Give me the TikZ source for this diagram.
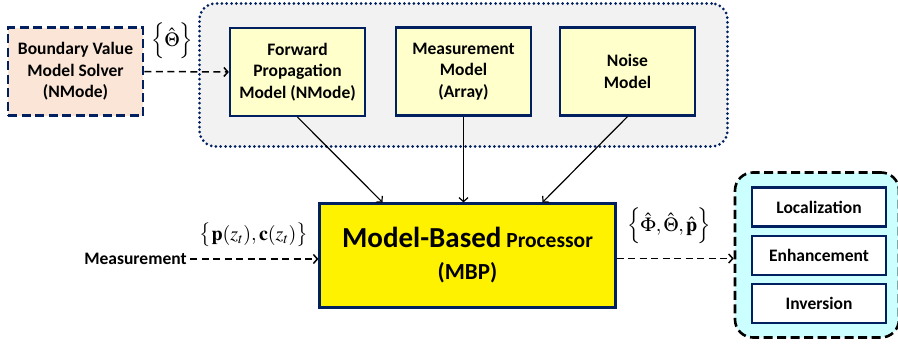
\documentclass[tikz,border=0pt]{standalone}
\usepackage{mathptmx}
\usepackage[no-math]{fontspec}
\setmainfont{Carlito}
\usepackage{amsmath}
\usetikzlibrary{positioning,arrows.meta}

\definecolor{navy}{RGB}{0,32,96}
\definecolor{peach}{RGB}{251,229,214}
\definecolor{paleyellow}{RGB}{255,255,204}
\definecolor{panelgray}{RGB}{242,242,242}
\definecolor{paleblue}{RGB}{204,255,255}

\begin{document}
\begin{tikzpicture}[x=1pt,y=-1pt,
  model/.style={draw=navy,line width=2.2pt,fill=paleyellow,minimum width=135pt,minimum height=88pt,align=center,inner sep=2pt,font=\bfseries\fontsize{17.5}{21.5}\selectfont},
  task/.style={draw=navy,line width=2.2pt,fill=white,minimum width=134pt,minimum height=39pt,font=\bfseries\fontsize{17.5}{20}\selectfont},
  longdash/.style={dash pattern=on 9pt off 4.5pt},
  flow/.style={line width=1.5pt,dash pattern=on 7pt off 4.5pt,-{Straight Barb[length=4pt,width=9pt]}},
  feed/.style={line width=1.2pt,-{Straight Barb[length=4pt,width=9pt]}},
  setlabel/.style={font=\fontsize{20}{24}\selectfont}]

\useasboundingbox (0,0) rectangle (898,348);

% model blocks feeding the processor
\node[draw=navy,line width=3pt,dash pattern=on 0pt off 4.8pt,line cap=round,fill=panelgray,rounded corners=16pt,minimum width=528pt,minimum height=143pt] (models) at (463.5,75) {};
\node[model] (fwd) at (297.5,72) {Forward\\Propagation\\Model (NMode)};
\node[model] (meas) at (463.5,71.5) {Measurement\\Model\\(Array)};
\node[model] (noise) at (627.5,71.5) {Noise\\Model};

\node[model,fill=peach,longdash,line width=2.6pt] (bvms) at (75.5,71.5) {Boundary Value\\Model Solver\\(NMode)};

% processor
\node[draw=navy,line width=2.2pt,fill=yellow,minimum width=296pt,minimum height=104pt,align=center,
      font=\bfseries\fontsize{21.5}{32}\selectfont] (mbp) at (467.5,255.5)
  {{\fontsize{29}{32}\selectfont Model-Based} Processor\\{\fontsize{23}{32}\selectfont (MBP)}};

% outputs
\node[draw=black,longdash,line width=2.6pt,fill=paleblue,rounded corners=18pt,minimum width=164pt,minimum height=165pt] (out) at (817,255) {};
\node[task] (loc) at (819,207) {Localization};
\node[task] (enh) at (819,255.5) {Enhancement};
\node[task] (inv) at (819,303.5) {Inversion};

\node[font=\bfseries\fontsize{17.5}{20}\selectfont] (data) at (135.5,259) {Measurement};

\node[setlabel] (theta) at (172,41) {$\Bigl\{\hat{\Theta}\Bigr\}$};
\node[setlabel] (obs) at (254,235) {$\bigl\{\mathbf{p}(z_t),\mathbf{c}(z_t)\bigr\}$};
\node[setlabel] (est) at (669,226) {$\Bigl\{\hat{\Phi},\hat{\Theta},\hat{\mathbf{p}}\Bigr\}$};

\draw[flow] (bvms.east) -- (fwd.west);
\draw[flow] (data.east) -- (data.east -| mbp.west);
\draw[flow] ([yshift=-3pt]mbp.east) -- ([yshift=-3pt]mbp.east -| out.west);

\draw[feed] (fwd.south) -- ([xshift=-85pt]mbp.north);
\draw[feed] (meas.south) -- (meas.south |- mbp.north);
\draw[feed] (noise.south) -- ([xshift=75pt]mbp.north);

\end{tikzpicture}
\end{document}
